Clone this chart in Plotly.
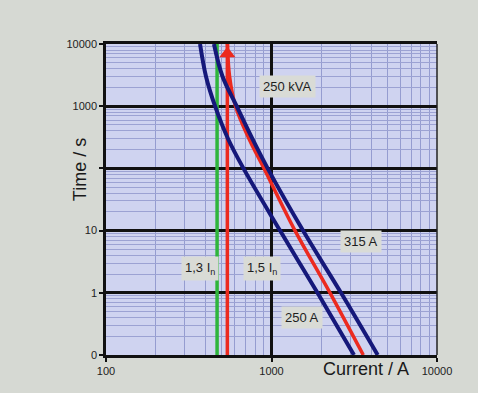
import math
import plotly.graph_objects as go

# Time–current characteristics: fuses 250 A / 315 A and a 250 kVA transformer
time_s = [10000, 3000, 1000, 300, 100, 10, 1, 0.1]
fuse_250A = [370, 402, 456, 546, 677, 1126, 1896, 3151]
fuse_315A = [449, 506, 616, 766, 948, 1550, 2630, 4382]
trafo_250kVA = [542, 558, 606, 731, 901, 1387, 2257, 3586]

# Overload limits of the transformer rated current
i_13 = 469
i_15 = 541
limit_time = [0.1, 10000]

y_tickvals = [0.1, 1, 10, 100, 1000, 10000]
y_ticktext = ["0", "1", "10", "", "1000", "10000"]
x_tickvals = [100, 1000, 10000]
x_ticktext = ["100", "1000", "10000"]

NAVY = "#15187a"
RED = "#ec2a1f"
GREEN = "#2fb53c"
LABEL_BG = "#d9dbd6"
FONT = "Arial, Liberation Sans, sans-serif"

fig = go.Figure()

fig.add_trace(go.Scatter(x=[i_13, i_13], y=limit_time, mode="lines",
                         line=dict(color=GREEN, width=3.5), hoverinfo="skip"))
fig.add_trace(go.Scatter(x=[i_15, i_15], y=limit_time, mode="lines",
                         line=dict(color=RED, width=3.5), hoverinfo="skip"))
fig.add_trace(go.Scatter(x=trafo_250kVA, y=time_s, mode="lines",
                         line=dict(color=RED, width=3.5, shape="spline", smoothing=1),
                         hoverinfo="skip"))
fig.add_trace(go.Scatter(x=fuse_250A, y=time_s, mode="lines",
                         line=dict(color=NAVY, width=4, shape="spline", smoothing=1),
                         hoverinfo="skip"))
fig.add_trace(go.Scatter(x=fuse_315A, y=time_s, mode="lines",
                         line=dict(color=NAVY, width=4, shape="spline", smoothing=1),
                         hoverinfo="skip"))
# arrowhead at the top of the 1,5 In line
fig.add_trace(go.Scatter(x=[i_15], y=[7000], mode="markers",
                         marker=dict(symbol="triangle-up", size=14, color=RED),
                         hoverinfo="skip"))

minor_x = [m * 10 ** d for d in (2, 3) for m in range(2, 10)]
minor_y = [m * 10 ** d for d in (-1, 0, 1, 2, 3) for m in range(2, 10)]

fig.update_xaxes(
    type="log", range=[2, 4],
    tickvals=x_tickvals, ticktext=x_ticktext,
    ticks="outside", ticklen=4, tickcolor="#111", tickwidth=1.5,
    tickfont=dict(family=FONT, size=11, color="#222"),
    showgrid=True, gridcolor="#111", gridwidth=2.5,
    showline=True, linecolor="#111", linewidth=2.5, mirror=True,
    minor=dict(tickvals=minor_x, showgrid=True, gridcolor="#959cd0",
               gridwidth=1, ticks=""),
    zeroline=False, fixedrange=True,
)
fig.update_yaxes(
    type="log", range=[-1, 4],
    tickvals=y_tickvals, ticktext=y_ticktext,
    ticks="outside", ticklen=4, tickcolor="#111", tickwidth=1.5,
    tickfont=dict(family=FONT, size=11, color="#222"),
    showgrid=True, gridcolor="#111", gridwidth=2.5,
    showline=True, linecolor="#111", linewidth=2.5,
    minor=dict(tickvals=minor_y, showgrid=True, gridcolor="#9ca2d3",
               gridwidth=1, ticks=""),
    zeroline=False, fixedrange=True,
)

# thin right-hand border of the chart area
fig.add_shape(type="line", xref="paper", yref="paper", x0=1, x1=1, y0=0, y1=1,
              line=dict(color="#222", width=1.5))

label_font = dict(family=FONT, size=13, color="#1e1e1e")
labels = [
    ("250 kVA", 1242, 2037),
    ("315 A", 3475, 6.56),
    ("1,3 I<sub>n</sub>", 370, 2.42),
    ("1,5 I<sub>n</sub>", 877, 2.42),
    ("250 A", 1528, 0.394),
]
for text, x, y in labels:
    fig.add_annotation(x=math.log10(x), y=math.log10(y), text=text, showarrow=False,
                       xanchor="center", yanchor="middle",
                       font=label_font, bgcolor=LABEL_BG, borderpad=3)

fig.add_annotation(xref="paper", yref="paper", x=0.785, y=-0.045,
                   text="Current / A", showarrow=False,
                   xanchor="center", yanchor="middle",
                   font=dict(family=FONT, size=18, color="#1a1a1a"))
fig.add_annotation(xref="paper", yref="paper", x=-0.078, y=0.595,
                   text="Time / s", showarrow=False, textangle=-90,
                   xanchor="center", yanchor="middle",
                   font=dict(family=FONT, size=18, color="#1a1a1a"))

fig.update_layout(
    width=478, height=393,
    margin=dict(l=106, r=41, t=44, b=38),
    paper_bgcolor="#d6d9d3",
    plot_bgcolor="#cfd3f0",
    showlegend=False,
)

fig.write_html("out.html", config={"displayModeBar": False})
